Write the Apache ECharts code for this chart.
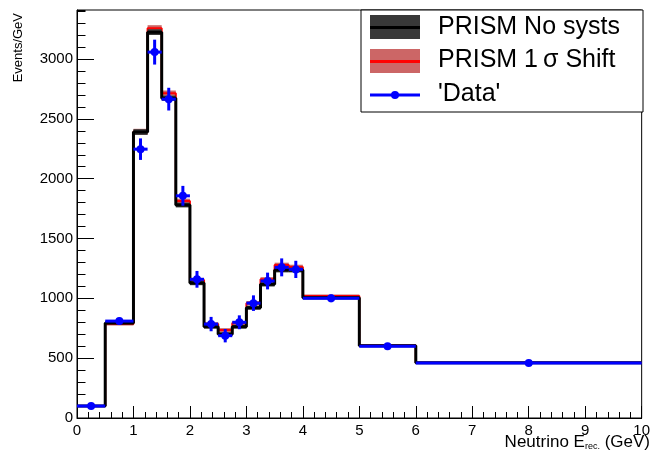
<!DOCTYPE html>
<html>
<head>
<meta charset="utf-8">
<script src="https://cdn.jsdelivr.net/npm/echarts@6/dist/echarts.min.js"></script>
<style>
  html, body { margin: 0; padding: 0; background: #fff; }
  #main { width: 653px; height: 454px; }
</style>
</head>
<body>
<div id="main"></div>
<script>
// bin edges (GeV)
var binEdges = [0, 0.5, 1, 1.25, 1.5, 1.75, 2, 2.25, 2.5, 2.75, 3, 3.25, 3.5, 3.75, 4, 5, 6, 10];
// PRISM no systs
var nominal = [100, 795, 2390, 3225, 2673, 1780, 1128, 763, 701, 763, 922, 1117, 1237, 1237, 1005, 604, 462];
var nominalErr = [6, 12, 24, 24, 22, 20, 18, 16, 16, 16, 17, 18, 20, 20, 12, 8, 6];
// PRISM 1 sigma shift
var shifted = [100, 785, 2392, 3258, 2715, 1813, 1153, 785, 735, 793, 960, 1159, 1278, 1261, 1019, 606, 462];
var shiftedErr = [6, 12, 25, 25, 22, 20, 18, 16, 16, 16, 18, 18, 20, 20, 14, 8, 6];
// 'Data'
var dataVals = [100, 810, 2247, 3058, 2665, 1857, 1159, 785, 688, 800, 960, 1145, 1259, 1242, 1000, 600, 460];
var dataErr = [14, 28, 90, 104, 95, 83, 70, 60, 56, 58, 65, 70, 75, 72, 32, 25, 11];

var yTicks = [0, 500, 1000, 1500, 2000, 2500, 3000];
var yMax = 3410;

var FONT = 'Liberation Sans, Arial, Helvetica, sans-serif';

function stepData(vals) {
    var out = [];
    for (var i = 0; i < vals.length; i++) out.push([binEdges[i], vals[i]]);
    out.push([binEdges[vals.length], vals[vals.length - 1]]);
    return out;
}

function bandData(vals, errs) {
    var out = [];
    for (var i = 0; i < vals.length; i++) {
        out.push([binEdges[i], binEdges[i + 1], vals[i] - errs[i], vals[i] + errs[i]]);
    }
    return out;
}

function bandRender(color) {
    return function (params, api) {
        var p1 = api.coord([api.value(0), api.value(3)]);
        var p2 = api.coord([api.value(1), api.value(2)]);
        return {
            type: 'rect',
            shape: { x: p1[0], y: p1[1], width: p2[0] - p1[0], height: p2[1] - p1[1] },
            style: { fill: color }
        };
    };
}

var pointData = [];
for (var i = 0; i < dataVals.length; i++) {
    pointData.push([binEdges[i], binEdges[i + 1], dataVals[i], dataErr[i]]);
}

var myChart = echarts.init(document.getElementById('main'), null, { renderer: 'canvas' });

var option = {
    animation: false,
    backgroundColor: '#fff',
    grid: {
        left: 77, right: 10, top: 10, bottom: 36,
        show: true, borderColor: '#000', borderWidth: 1, backgroundColor: 'transparent'
    },
    xAxis: {
        type: 'value', min: 0, max: 10, interval: 1,
        axisLine: { lineStyle: { color: '#000', width: 1 } },
        axisTick: { inside: true, length: 12, lineStyle: { color: '#000' } },
        minorTick: { show: true, splitNumber: 5, length: 6, lineStyle: { color: '#000' } },
        axisLabel: { color: '#000', fontSize: 15, fontFamily: FONT, margin: 5 },
        splitLine: { show: false }
    },
    yAxis: [
        {
            type: 'value', min: 0, max: yMax, interval: 500,
            axisLine: { show: true, lineStyle: { color: '#000', width: 1 } },
            axisTick: { inside: true, length: 17, lineStyle: { color: '#000' } },
            axisLabel: {
                color: '#000', fontSize: 15, fontFamily: FONT, margin: 4, showMaxLabel: false,
                formatter: function (v) { return yTicks.indexOf(v) >= 0 ? String(v) : ''; }
            },
            splitLine: { show: false }
        },
        {
            // minor ticks every 100
            type: 'value', min: 0, max: yMax, interval: 100, position: 'left',
            axisLine: { show: false },
            axisTick: { show: true, inside: true, length: 8.5, lineStyle: { color: '#000' } },
            axisLabel: { show: false },
            splitLine: { show: false }
        }
    ],
    series: [
        {
            name: 'PRISM 1σ Shift band', type: 'custom', z: 1,
            renderItem: bandRender('#cc6666'),
            data: bandData(shifted, shiftedErr)
        },
        {
            name: 'PRISM 1σ Shift', type: 'line', step: 'end', z: 2,
            symbol: 'none', lineStyle: { color: '#ff0000', width: 2 },
            data: stepData(shifted)
        },
        {
            name: 'PRISM No systs band', type: 'custom', z: 3,
            renderItem: bandRender('#383838'),
            data: bandData(nominal, nominalErr)
        },
        {
            name: 'PRISM No systs', type: 'line', step: 'end', z: 4,
            symbol: 'none', lineStyle: { color: '#000', width: 3 },
            data: stepData(nominal)
        },
        {
            name: "'Data'", type: 'custom', z: 5,
            renderItem: function (params, api) {
                var lo = api.value(0), hi = api.value(1), v = api.value(2), e = api.value(3);
                var mid = (lo + hi) / 2;
                var a = api.coord([lo, v]), b = api.coord([hi, v]);
                var c = api.coord([mid, v]);
                var up = api.coord([mid, v + e]), dn = api.coord([mid, v - e]);
                return {
                    type: 'group',
                    children: [
                        { type: 'line', shape: { x1: a[0], y1: a[1], x2: b[0], y2: b[1] },
                          style: { stroke: '#0000ff', lineWidth: 3 } },
                        { type: 'line', shape: { x1: up[0], y1: up[1], x2: dn[0], y2: dn[1] },
                          style: { stroke: '#0000ff', lineWidth: 3 } },
                        { type: 'circle', shape: { cx: c[0], cy: c[1], r: 4 },
                          style: { fill: '#0000ff' } }
                    ]
                };
            },
            data: pointData
        }
    ],
    graphic: [
        // axis titles
        {
            type: 'text', x: 18, y: 13, rotation: Math.PI / 2, z: 10,
            style: { text: 'Events/GeV', fill: '#000', font: '13px ' + FONT, textAlign: 'right', textVerticalAlign: 'middle' }
        },
        {
            type: 'text', x: 650, y: 442, z: 10,
            style: {
                text: 'Neutrino E{sub|rec.} (GeV)', fill: '#000', font: '17px ' + FONT,
                textAlign: 'right', textVerticalAlign: 'middle',
                rich: { sub: { fontSize: 9, fontFamily: FONT, fill: '#000', padding: [10, 0, 0, 0] } }
            }
        },
        // legend box
        {
            type: 'rect', z: 20,
            shape: { x: 361, y: 10, width: 282, height: 102 },
            style: { fill: '#fff', stroke: '#000', lineWidth: 1 }
        },
        { type: 'rect', z: 21, shape: { x: 370, y: 15, width: 50, height: 24 }, style: { fill: '#383838' } },
        { type: 'line', z: 22, shape: { x1: 370, y1: 27.5, x2: 420, y2: 27.5 }, style: { stroke: '#000', lineWidth: 3 } },
        { type: 'rect', z: 21, shape: { x: 370, y: 49, width: 50, height: 24 }, style: { fill: '#cc6666' } },
        { type: 'line', z: 22, shape: { x1: 370, y1: 61.5, x2: 420, y2: 61.5 }, style: { stroke: '#ff0000', lineWidth: 3 } },
        { type: 'line', z: 22, shape: { x1: 370, y1: 95, x2: 420, y2: 95 }, style: { stroke: '#0000ff', lineWidth: 3 } },
        { type: 'circle', z: 22, shape: { cx: 395, cy: 95, r: 4 }, style: { fill: '#0000ff' } },
        { type: 'text', z: 22, x: 438, y: 27, style: { text: 'PRISM No systs', fill: '#000', font: '25px ' + FONT, textVerticalAlign: 'middle' } },
        { type: 'text', z: 22, x: 438, y: 60, style: { text: 'PRISM 1\u2009σ Shift', fill: '#000', font: '25px ' + FONT, textVerticalAlign: 'middle' } },
        { type: 'text', z: 22, x: 438, y: 94, style: { text: "'Data'", fill: '#000', font: '25px ' + FONT, textVerticalAlign: 'middle' } }
    ]
};

myChart.setOption(option);
window.onresize = myChart.resize;
</script>
</body>
</html>
